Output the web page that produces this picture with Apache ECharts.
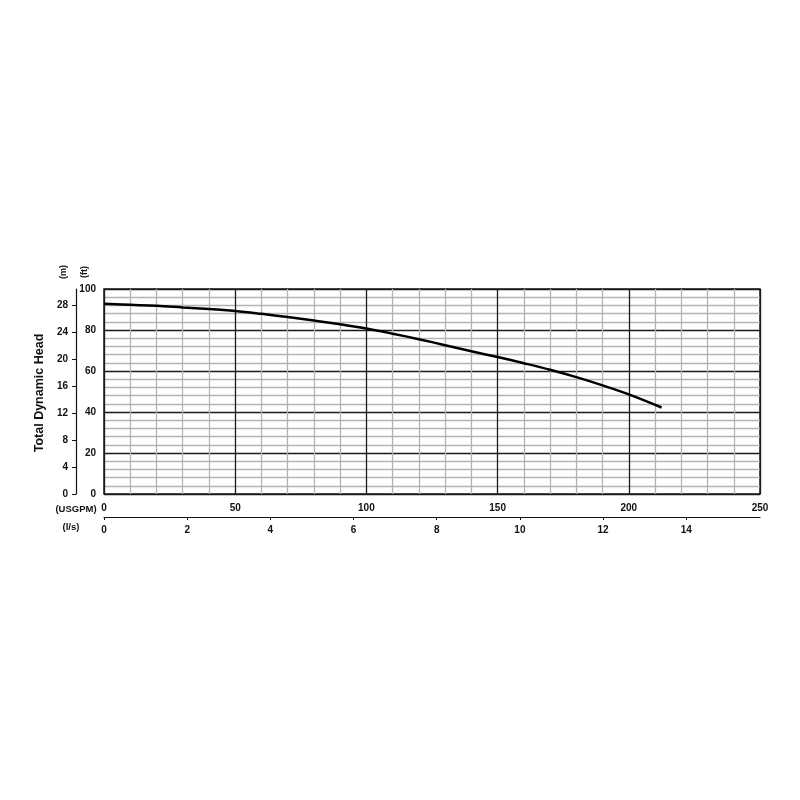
<!DOCTYPE html>
<html>
<head>
<meta charset="utf-8">
<script src="https://cdn.jsdelivr.net/npm/echarts@6/dist/echarts.min.js"></script>
<style>html,body{margin:0;padding:0;background:#fff}#c{width:800px;height:800px}</style>
</head>
<body>
<div id="c"></div>
<script>
// Flow (USGPM) and head (ft)
const flowGpm = [0, 10, 20, 30, 40, 50, 60, 70, 80, 90, 100, 110, 120, 130, 140, 150, 160, 170, 180, 190, 200, 212.5];
const headFt  = [92.8, 92.3, 91.8, 91.0, 90.2, 89.3, 87.9, 86.3, 84.6, 82.8, 80.7, 78.2, 75.5, 72.6, 69.6, 66.8, 63.8, 60.6, 57.0, 53.0, 48.6, 42.2];
const lpsTicks = [0, 2, 4, 6, 8, 10, 12, 14];
const mTicks = [0, 4, 8, 12, 16, 20, 24, 28];
const GPM_MAX = 250, FT_MAX = 100;
const GPM_PER_LPS = 15.8503;
const M_PER_FT = 0.3048;

const curve = flowGpm.map((x, i) => [x, headFt[i]]);
const font = 'Liberation Sans';
const major = '#1a1a1a', minor = '#b3b3b3';

const chart = echarts.init(document.getElementById('c'));
chart.setOption({
  animation: false,
  backgroundColor: '#fff',
  grid: { left: 104, right: 40, top: 289, bottom: 306, show: true, borderColor: major, borderWidth: 1.5, containLabel: false },
  xAxis: [
    {
      type: 'value', position: 'bottom', min: 0, max: GPM_MAX, interval: 10,
      axisLine: { show: false }, axisTick: { show: false },
      axisLabel: { margin: 9, fontFamily: font, fontWeight: 'bold', fontSize: 10, color: '#111',
        formatter: v => (v % 50 === 0 ? String(v) : '') },
      splitLine: { show: true, lineStyle: { color: [major, minor, minor, minor, minor], width: 1.3 } }
    },
    {
      type: 'value', position: 'bottom', offset: 23, min: 0, max: GPM_MAX / GPM_PER_LPS,
      axisLine: { show: true, onZero: false, lineStyle: { color: '#111', width: 1.2 } },
      axisTick: { show: true, inside: false, length: 3, customValues: lpsTicks, lineStyle: { color: '#111' } },
      axisLabel: { margin: 8, customValues: lpsTicks, fontFamily: font, fontWeight: 'bold', fontSize: 10, color: '#111' },
      splitLine: { show: false }
    }
  ],
  yAxis: [
    {
      type: 'value', position: 'left', min: 0, max: FT_MAX, interval: 4,
      axisLine: { show: false }, axisTick: { show: false },
      axisLabel: { margin: 8, fontFamily: font, fontWeight: 'bold', fontSize: 10, color: '#111',
        formatter: v => (v % 20 === 0 ? String(v) : '') },
      splitLine: { show: true, lineStyle: { color: [major, minor, minor, minor, minor], width: 1.3 } }
    },
    {
      type: 'value', position: 'left', offset: 28, min: 0, max: FT_MAX * M_PER_FT,
      axisLine: { show: true, onZero: false, lineStyle: { color: '#111', width: 1.2 } },
      axisTick: { show: true, inside: false, length: 4, customValues: mTicks, lineStyle: { color: '#111' } },
      axisLabel: { margin: 8, customValues: mTicks, fontFamily: font, fontWeight: 'bold', fontSize: 10, color: '#111' },
      splitLine: { show: false }
    }
  ],
  graphic: [
    { type: 'text', x: 40, y: 393, rotation: Math.PI / 2,
      style: { text: 'Total Dynamic Head', font: 'bold 12.5px ' + font, fill: '#111', align: 'center', verticalAlign: 'middle' } },
    { type: 'text', x: 64, y: 272, rotation: Math.PI / 2,
      style: { text: '(m)', font: 'bold 9px ' + font, fill: '#111', align: 'center', verticalAlign: 'middle' } },
    { type: 'text', x: 85, y: 272, rotation: Math.PI / 2,
      style: { text: '(ft)', font: 'bold 9px ' + font, fill: '#111', align: 'center', verticalAlign: 'middle' } },
    { type: 'text', x: 76, y: 509,
      style: { text: '(USGPM)', font: 'bold 9.5px ' + font, fill: '#111', align: 'center', verticalAlign: 'middle' } },
    { type: 'text', x: 71, y: 527,
      style: { text: '(l/s)', font: 'bold 9.5px ' + font, fill: '#111', align: 'center', verticalAlign: 'middle' } }
  ],
  series: [
    {
      type: 'line', xAxisIndex: 0, yAxisIndex: 0, data: curve, smooth: 0.4, showSymbol: false,
      lineStyle: { color: '#000', width: 2.5 }, z: 10
    }
  ]
});
</script>
</body>
</html>
